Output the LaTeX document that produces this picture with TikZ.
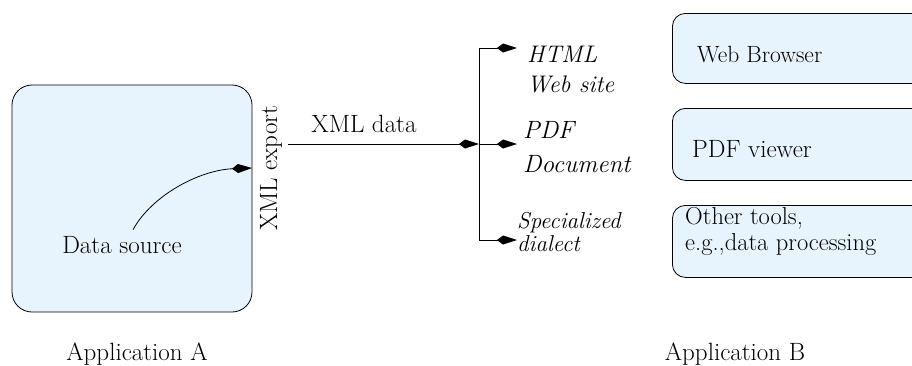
\documentclass[tikz,border=0pt]{standalone}
\usetikzlibrary{arrows.meta}
\definecolor{boxblue}{RGB}{232,244,253}
\begin{document}
\begin{tikzpicture}[x=1pt,y=-1pt,
  every node/.style={font=\fontsize{25}{30}\selectfont, inner sep=0pt},
  appbox/.style={draw, fill=boxblue, line width=0.8pt, rounded corners=#1},
  conn/.style={line width=0.8pt},
  kite/.style={line width=0.8pt, -{Kite[length=20pt,width=9pt,inset=6pt]}},
  lbl/.style={anchor=base west, align=left}]
\clip (0,0) rectangle (912,365);
% left application box
\node[appbox=20pt, minimum width=240pt, minimum height=227pt] (A) at (132,198.5) {};
\node[anchor=base] (ds) at (122,253) {Data source};
\coordinate (exp) at (252,168);
\draw[kite] ([xshift=11pt,yshift=6pt]ds.north) .. controls (152,195) and (200,170) .. (exp);
\node[anchor=base west, rotate=90] (xe) at (277,231) {XML export};
% data line
\coordinate (xs) at (288,144);
\coordinate (br) at (479,144);
\coordinate (bt) at (479,48);
\coordinate (bb) at (479,240);
\draw[kite] (xs) -- (br);
\node[anchor=base] (xd) at (364,132) {XML data};
\draw[conn] (bt) -- (bb);
\coordinate (t1) at (517,48);
\coordinate (t2) at (517,144);
\coordinate (t3) at (517,240);
\draw[kite] (bt) -- (t1);
\draw[kite] (br) -- (t2);
\draw[kite] (bb) -- (t3);
\node[lbl, font=\fontsize{24}{30}\selectfont\itshape] (html) at (527,92) {HTML\\Web site};
\node[lbl, font=\fontsize{25}{34}\selectfont\itshape] (pdf) at (523,172) {PDF\\Document};
\node[lbl, font=\fontsize{23}{23}\selectfont\itshape] (spec) at (517,251) {Specialized\\dialect};
% right application boxes
\node[appbox=13pt, minimum width=270pt, minimum height=70pt, anchor=north west] (b1) at (672,13) {};
\node[appbox=13pt, minimum width=270pt, minimum height=72pt, anchor=north west] (b2) at (672,108) {};
\node[appbox=13pt, minimum width=270pt, minimum height=72pt, anchor=north west] (b3) at (672,205) {};
\node[anchor=base west, font=\fontsize{23.5}{30}\selectfont] (wb) at (697,62) {Web Browser};
\node[anchor=base west] (pv) at (692,157) {PDF viewer};
\node[lbl, font=\fontsize{24.5}{26}\selectfont] (ot) at (685,250) {Other tools,\\e.g.,data processing};
% captions
\node[anchor=base] (capA) at (137,360) {Application A};
\node[anchor=base] (capB) at (735,360) {Application B};
\end{tikzpicture}
\end{document}
